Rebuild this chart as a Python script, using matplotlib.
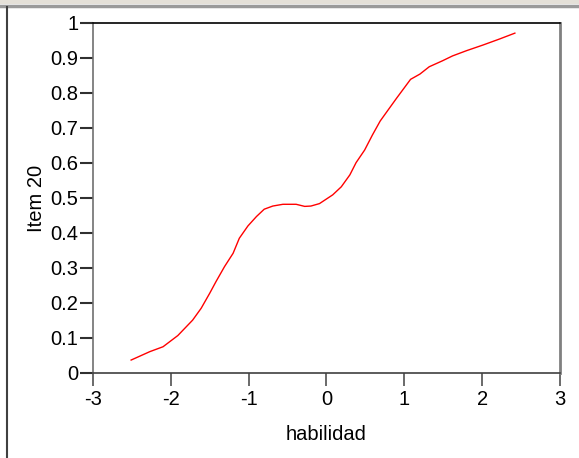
import matplotlib
matplotlib.use('Agg')
import matplotlib.pyplot as plt
from matplotlib.lines import Line2D

plt.rcParams['font.family'] = ['Liberation Sans', 'DejaVu Sans']

# curve
habilidad = [-2.51, -2.27, -2.10, -1.91, -1.72, -1.61, -1.50, -1.42, -1.31,
             -1.20, -1.12, -1.01, -0.90, -0.80, -0.69, -0.56, -0.39, -0.28,
             -0.20, -0.09, 0.08, 0.19, 0.30, 0.38, 0.49, 0.59, 0.69, 0.79,
             0.90, 1.00, 1.08, 1.20, 1.32, 1.49, 1.62, 1.80, 2.01, 2.22, 2.42]
item20 = [0.037, 0.061, 0.075, 0.107, 0.151, 0.185, 0.228, 0.261, 0.304,
          0.342, 0.385, 0.420, 0.447, 0.468, 0.477, 0.482, 0.482, 0.476,
          0.477, 0.484, 0.509, 0.532, 0.566, 0.601, 0.637, 0.680, 0.720,
          0.751, 0.785, 0.815, 0.839, 0.854, 0.875, 0.892, 0.906, 0.921,
          0.937, 0.954, 0.971]
xticks = [-3, -2, -1, 0, 1, 2, 3]
yticks = [0, 0.1, 0.2, 0.3, 0.4, 0.5, 0.6, 0.7, 0.8, 0.9, 1]
ytick_labels = ['0', '0.1', '0.2', '0.3', '0.4', '0.5', '0.6', '0.7',
                '0.8', '0.9', '1']

fig = plt.figure(figsize=(5.79, 4.58), dpi=100)

# window frame bits around the plot
fig.add_artist(Line2D([0, 1], [0.996, 0.996], color='#e4e0d8', lw=3))
fig.add_artist(Line2D([0, 1], [0.987, 0.987], color='#9a9a9a', lw=2.5))
fig.add_artist(Line2D([0.0115, 0.0115], [0, 0.985], color='#404040', lw=1.5))

ax = fig.add_axes([0.1606, 0.1856, 0.8066, 0.7642])
ax.plot(habilidad, item20, color='#ff0000', lw=1)

ax.set_xlim(-3, 3)
ax.set_ylim(0, 1)
ax.set_xticks(xticks)
ax.set_xticklabels([str(t) for t in xticks])
ax.set_yticks(yticks)
ax.set_yticklabels(ytick_labels)

ax.spines['top'].set_color('black')
ax.spines['top'].set_linewidth(1.2)
ax.spines['right'].set_color('#808080')
ax.spines['right'].set_linewidth(2)
ax.spines['left'].set_color('#707070')
ax.spines['left'].set_linewidth(1.2)
ax.spines['bottom'].set_color('#404040')
ax.spines['bottom'].set_linewidth(1.2)

ax.tick_params(axis='y', direction='out', length=9.5, width=1.5,
               color='#303030', labelsize=14.5, pad=1)
ax.tick_params(axis='x', direction='out', length=9.5, width=1.2,
               color='#505050', labelsize=14.5, pad=3)

ax.set_xlabel('habilidad', fontsize=14.5, labelpad=11)
ax.set_ylabel('Item 20', fontsize=14.5, labelpad=3)

fig.savefig('out.png', dpi=100)
